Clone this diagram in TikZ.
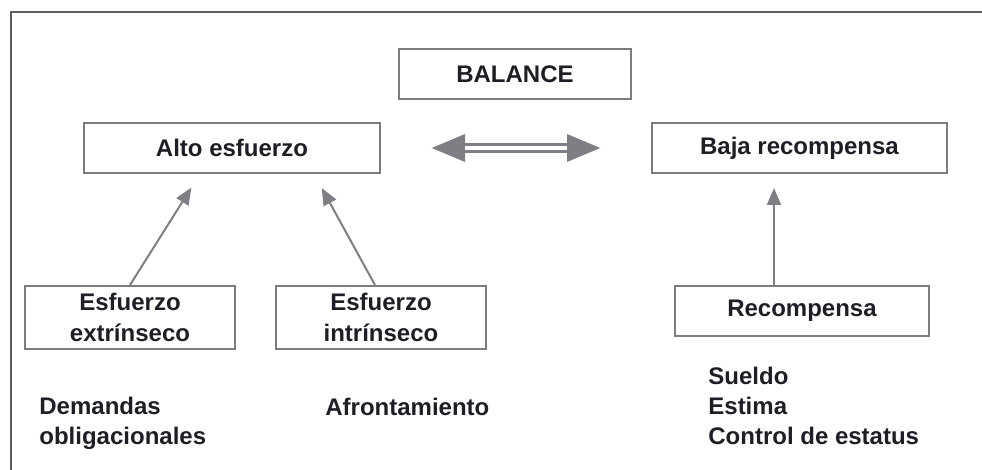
\documentclass[tikz,border=0pt]{standalone}
\usepackage{fontspec}
\setmainfont{Liberation Sans}
\usepackage{tikz}
\usetikzlibrary{positioning, arrows.meta}

\definecolor{boxgray}{RGB}{125,125,128}
\definecolor{arrowgray}{RGB}{125,127,133}
\definecolor{framegray}{RGB}{95,95,95}
\definecolor{textdark}{RGB}{30,30,38}

\tikzset{
  diagbox/.style={draw=boxgray, line width=1pt, inner sep=0pt, minimum height=25pt,
    align=center, text=textdark, font=\bfseries\fontsize{12}{15.5}\selectfont},
  uparrow/.style={draw=arrowgray, line width=1pt, -{Triangle[length=8.5pt,width=7pt]}},
  notetext/.style={inner sep=0pt, align=left, anchor=base west, text=textdark,
    font=\bfseries\fontsize{12}{15}\selectfont}
}

\begin{document}
\begin{tikzpicture}[x=0.5pt, y=-0.5pt]
    \useasboundingbox (0,0) rectangle (982,470);

    % Draw frame
    \draw[framegray, line width=1pt] (982,12.5) -- (11,12.5) -- (11,470);

    % Top row
    \node[diagbox, minimum width=116pt] (balance) at (515,74) {BALANCE};
    \node[diagbox, minimum width=148pt] (alto) at (232,148) {Alto esfuerzo};
    \node[diagbox, minimum width=147.5pt] (baja) at (799.5,148) {Baja recompensa};

    % Bottom row
    \node[diagbox, minimum width=105pt, minimum height=31.5pt] (extr) at (130,317.5) {Esfuerzo\\extrínseco};
    \node[diagbox, minimum width=105pt, minimum height=31.5pt] (intr) at (381,317.5) {Esfuerzo\\intrínseco};
    \node[diagbox, minimum width=127pt] (recomp) at (802,311) {Recompensa};

    % Double arrow between the two states
    \draw[arrowgray, line width=5pt, shorten <=24.5pt, shorten >=24.5pt,
      {Triangle[length=17.5pt,width=12.5pt]}-{Triangle[length=17.5pt,width=12.5pt]}] (alto) -- (baja);
    \draw[white, line width=2pt, shorten <=42pt, shorten >=42pt] (alto) -- (baja);

    % Arrows up
    \draw[uparrow, shorten >=8pt] (extr.north) -- ([xshift=-16pt]alto.south);
    \draw[uparrow, shorten >=8pt] ([xshift=-3pt]intr.north) -- ([xshift=41pt]alto.south);
    \coordinate (rtop) at ([xshift=-14pt]recomp.north);
    \draw[uparrow, shorten >=7pt] (rtop) -- (rtop |- baja.south);

    % Notes under the boxes (base = last line)
    \node[notetext] (demandas) at (39,445) {Demandas\\obligacionales};
    \node[notetext] (afront) at (325,416) {Afrontamiento};
    \node[notetext] (recursos) at (708,445) {Sueldo\\Estima\\Control de estatus};
\end{tikzpicture}
\end{document}
